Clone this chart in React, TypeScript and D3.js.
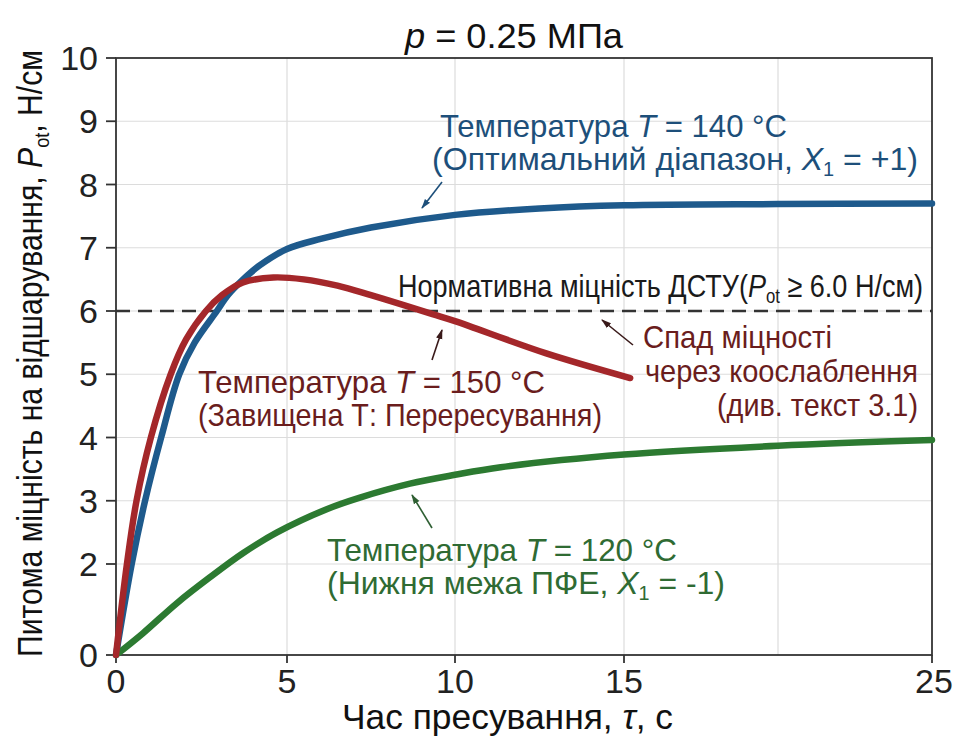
import React, { useEffect, useRef } from "react";
import * as d3 from "d3";

// time, s  /  strength, N/cm
const tBlue = [0, 0.46, 0.85, 1.32, 1.85, 2.3, 2.95, 3.27, 3.68, 4.2, 5, 6, 7.5, 10, 12.5, 15, 20, 25];
const pBlue = [0, 2, 3, 4, 5, 5.5, 6, 6.25, 6.48, 6.72, 6.98, 7.14, 7.32, 7.52, 7.62, 7.67, 7.69, 7.7];

const tRed = [0, 0.32, 0.6, 1.02, 1.6, 2.05, 2.63, 3.1, 3.71, 4.6, 5.5, 6.5, 7.5, 8.5, 9.33, 10, 12.7, 15.2];
const pRed = [0, 2, 3, 4, 5, 5.55, 6, 6.25, 6.45, 6.53, 6.5, 6.4, 6.25, 6.09, 5.95, 5.84, 5.33, 4.94];

const tGreen = [0, 0.79, 1.78, 2.75, 3.71, 4.71, 6.2, 7.17, 8.66, 10, 11.35, 15, 20, 25];
const pGreen = [0, 0.48, 1.14, 1.71, 2.17, 2.5, 2.87, 3.05, 3.27, 3.41, 3.53, 3.73, 3.87, 3.96];

const xTickLabels = [0, 5, 10, 15, 25];
const xGrid = [5, 10, 15, 20];
const yTickLabels = [0, 2, 3, 4, 5, 6, 7, 8, 9, 10];
const yGrid = [2, 3, 4, 5, 6, 7, 8, 9];
const normLevel = 6;

const FONT = "'Liberation Sans', Arial, sans-serif";

const App = () => {
  const ref = useRef<SVGSVGElement | null>(null);

  useEffect(() => {
    const width = 956;
    const height = 738;
    const svg = d3.select(ref.current).attr("width", width).attr("height", height);
    svg.selectAll("*").remove();

    // the picture's axes are not uniform, so piecewise scales
    const x = d3.scaleLinear().domain([0, 5, 10, 15, 20, 25]).range([116, 287, 455, 624, 778, 932]);
    const y = d3.scaleLinear().domain([0, 2, 10]).range([655, 564, 58]);

    const defs = svg.append("defs");
    const mk = (id: string, color: string) =>
      defs
        .append("marker")
        .attr("id", id)
        .attr("viewBox", "0 0 10 10")
        .attr("refX", 9)
        .attr("refY", 5)
        .attr("markerWidth", 10)
        .attr("markerHeight", 10)
        .attr("markerUnits", "userSpaceOnUse")
        .attr("orient", "auto")
        .append("path")
        .attr("d", "M0,1.8 L10,5 L0,8.2 Z")
        .attr("fill", color);
    mk("arB", "#1d4f7a");
    mk("arR", "#3a1a1a");
    mk("arG", "#2f5f33");

    svg.append("rect").attr("width", width).attr("height", height).attr("fill", "#fff");

    const g = svg.append("g");

    // grid
    g.selectAll(".gx")
      .data(xGrid)
      .enter()
      .append("line")
      .attr("x1", (d) => x(d))
      .attr("x2", (d) => x(d))
      .attr("y1", y(10))
      .attr("y2", y(0))
      .attr("stroke", "#dcdcdc")
      .attr("stroke-width", 1.2);
    g.selectAll(".gy")
      .data(yGrid)
      .enter()
      .append("line")
      .attr("x1", x(0))
      .attr("x2", x(25))
      .attr("y1", (d) => y(d))
      .attr("y2", (d) => y(d))
      .attr("stroke", "#dcdcdc")
      .attr("stroke-width", 1.2);

    // dashed norm line
    g.append("line")
      .attr("x1", x(0))
      .attr("x2", x(25))
      .attr("y1", y(normLevel))
      .attr("y2", y(normLevel))
      .attr("stroke", "#333")
      .attr("stroke-width", 2.6)
      .attr("stroke-dasharray", "14 8");

    // frame
    g.append("rect")
      .attr("x", x(0))
      .attr("y", y(10))
      .attr("width", x(25) - x(0))
      .attr("height", y(0) - y(10))
      .attr("fill", "none")
      .attr("stroke", "#333")
      .attr("stroke-width", 1.8);

    // ticks
    g.selectAll(".ty")
      .data(yTickLabels)
      .enter()
      .append("line")
      .attr("x1", x(0) - 10)
      .attr("x2", x(0))
      .attr("y1", (d) => y(d))
      .attr("y2", (d) => y(d))
      .attr("stroke", "#333")
      .attr("stroke-width", 1.8);
    g.selectAll(".tx")
      .data(xTickLabels)
      .enter()
      .append("line")
      .attr("x1", (d) => x(d))
      .attr("x2", (d) => x(d))
      .attr("y1", y(0))
      .attr("y2", y(0) + 8)
      .attr("stroke", "#333")
      .attr("stroke-width", 1.8);

    g.selectAll(".ly")
      .data(yTickLabels)
      .enter()
      .append("text")
      .attr("x", 98)
      .attr("y", (d) => y(d) + 12)
      .attr("text-anchor", "end")
      .attr("font-family", FONT)
      .attr("font-size", 34)
      .attr("fill", "#222")
      .text((d) => d);
    g.selectAll(".lx")
      .data(xTickLabels)
      .enter()
      .append("text")
      .attr("x", (d) => x(d) + (d === 25 ? 2 : 0))
      .attr("y", 693)
      .attr("text-anchor", "middle")
      .attr("font-family", FONT)
      .attr("font-size", 34)
      .attr("fill", "#222")
      .text((d) => d);

    // curves
    const line = d3
      .line<[number, number]>()
      .x((d) => x(d[0]))
      .y((d) => y(d[1]))
      .curve(d3.curveCatmullRom.alpha(0.5));
    const series = [
      { t: tBlue, p: pBlue, color: "#1e5a8c" },
      { t: tGreen, p: pGreen, color: "#2c7a31" },
      { t: tRed, p: pRed, color: "#a4272a" },
    ];
    series.forEach((s) => {
      const pts = s.t.map((t, i) => [t, s.p[i]] as [number, number]);
      g.append("path")
        .attr("d", line(pts))
        .attr("fill", "none")
        .attr("stroke", s.color)
        .attr("stroke-width", 6.5)
        .attr("stroke-linecap", "round");
    });

    // text helper: parts are [text, style]; len squeezes it to the picture's width
    type Part = [string, string?];
    const txt = (
      xx: number,
      yy: number,
      parts: Part[],
      color: string,
      len: number,
      size = 32,
      anchor = "start"
    ) => {
      const t = g
        .append("text")
        .attr("x", xx)
        .attr("y", yy)
        .attr("font-family", FONT)
        .attr("font-size", size)
        .attr("fill", color)
        .attr("text-anchor", anchor)
        .attr("textLength", len)
        .attr("lengthAdjust", "spacingAndGlyphs");
      parts.forEach(([s, st]) => {
        const ts = t.append("tspan").text(s);
        if (st === "i") ts.attr("font-style", "italic");
        if (st === "sub") ts.attr("font-size", size * 0.62).attr("dy", 6);
        if (st === "up") ts.attr("dy", -6);
      });
      return t;
    };

    // title
    txt(405, 48, [["p", "i"], [" = 0.25 МПа"]], "#111", 218, 35);

    // blue
    const cB = "#1d4f7a";
    txt(440, 137, [["Температура "], ["T", "i"], [" = 140 °C"]], cB, 347);
    txt(432, 170, [["(Оптимальний діапазон, "], ["X", "i"], ["1", "sub"], [" = +1)", "up"]], cB, 486);

    // norm
    txt(398, 297, [["Нормативна міцність ДСТУ("], ["P", "i"], ["ot", "sub"], [" ≥ 6.0 Н/см)", "up"]], "#1a1a1a", 525);

    // red
    const cR = "#6a1d1d";
    txt(643, 348, [["Спад міцності"]], cR, 189);
    txt(645, 382, [["через коослаблення"]], cR, 273);
    txt(717, 416, [["(див. текст 3.1)"]], cR, 201);
    txt(198, 393, [["Температура "], ["T", "i"], [" = 150 °C"]], cR, 347);
    txt(198, 426, [["(Завищена Т: Перересування)"]], cR, 404);

    // green
    const cG = "#2f6b33";
    txt(327, 561, [["Температура "], ["T", "i"], [" = 120 °C"]], cG, 350);
    txt(327, 594, [["(Нижня межа ПФЕ, "], ["X", "i"], ["1", "sub"], [" = -1)", "up"]], cG, 398);

    // arrows
    const arrows = [
      { x1: 442, y1: 182, x2: 422, y2: 208, c: cB, m: "arB" },
      { x1: 633, y1: 345, x2: 602, y2: 320, c: "#3a1a1a", m: "arR" },
      { x1: 432, y1: 360, x2: 442, y2: 330, c: "#3a1a1a", m: "arR" },
      { x1: 432, y1: 528, x2: 412, y2: 495, c: "#2f5f33", m: "arG" },
    ];
    arrows.forEach((a) => {
      g.append("line")
        .attr("x1", a.x1)
        .attr("y1", a.y1)
        .attr("x2", a.x2)
        .attr("y2", a.y2)
        .attr("stroke", a.c)
        .attr("stroke-width", 1.6)
        .attr("marker-end", `url(#${a.m})`);
    });

    // axis titles
    txt(342, 729, [["Час пресування, "], ["τ", "i"], [", с"]], "#111", 331, 35);
    const yt = g
      .append("text")
      .attr("transform", "translate(42,657) rotate(-90)")
      .attr("font-family", FONT)
      .attr("font-size", 35)
      .attr("fill", "#111")
      .attr("textLength", 607)
      .attr("lengthAdjust", "spacingAndGlyphs");
    yt.append("tspan").text("Питома міцність на відшарування, ");
    yt.append("tspan").text("P").attr("font-style", "italic");
    yt.append("tspan").text("ot").attr("font-size", 21).attr("dy", 7);
    yt.append("tspan").text(", Н/см").attr("dy", -7);

    return () => {
      svg.selectAll("*").remove();
    };
  }, []);

  return (
    <svg
      ref={ref}
      style={{ position: "absolute", left: 0, top: 0, display: "block" }}
    ></svg>
  );
};

export default App;
